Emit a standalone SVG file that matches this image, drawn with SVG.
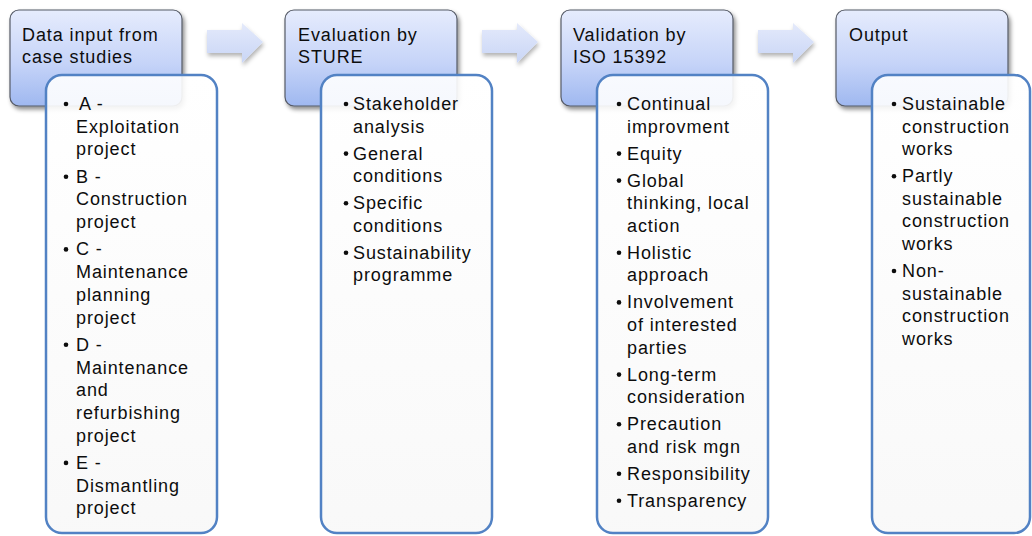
<svg xmlns="http://www.w3.org/2000/svg" width="1032" height="536" viewBox="0 0 1032 536">
<defs>
<linearGradient id="hg" x1="0" y1="0" x2="0" y2="1">
<stop offset="0" stop-color="#e6ecfd"/>
<stop offset="0.55" stop-color="#c6d4f8"/>
<stop offset="1" stop-color="#9fb8f0"/>
</linearGradient>
<linearGradient id="ag" x1="0" y1="0" x2="0" y2="1">
<stop offset="0" stop-color="#e4eafb"/>
<stop offset="1" stop-color="#c9d6f6"/>
</linearGradient>
<linearGradient id="dg" x1="0" y1="0" x2="0" y2="1">
<stop offset="0" stop-color="#ffffff"/>
<stop offset="1" stop-color="#f8f8f8"/>
</linearGradient>
<filter id="sh" x="-10%" y="-10%" width="125%" height="130%">
<feDropShadow dx="2" dy="3" stdDeviation="2" flood-color="#000" flood-opacity="0.45"/>
</filter>
<filter id="ash" x="-10%" y="-20%" width="130%" height="160%">
<feDropShadow dx="1" dy="3" stdDeviation="2" flood-color="#000" flood-opacity="0.3"/>
</filter>
<path id="arrow" d="M0,8 H35 V1 L56,20 L35,41 V31 H0 Z"/>
</defs>
<style>
.hdr{fill:url(#hg);stroke:#555a66;stroke-width:1.2;filter:url(#sh)}
.det{fill:url(#dg);fill-opacity:0.9;stroke:#5282c4;stroke-width:2.5}
.arr{fill:url(#ag);filter:url(#ash)}
text{font-family:"Liberation Sans",Arial,sans-serif;font-size:18px;letter-spacing:0.9px;fill:#0d0d0d}
.b{fill:#0d0d0d}
</style>
<rect width="1032" height="536" fill="#ffffff"/>

<g id="connectors">
<use href="#arrow" class="arr" x="207" y="22"/>
<use href="#arrow" class="arr" x="482" y="22"/>
<use href="#arrow" class="arr" x="758" y="22"/>
</g>

<g id="node-data-input">
<rect class="hdr" x="10" y="10" width="172" height="96" rx="9"/>
<text x="22" y="41">Data input from</text>
<text x="22" y="63">case studies</text>
</g>
<g id="node-case-studies">
<rect class="det" x="46" y="75" width="171" height="458" rx="16"/>
<g class="b">
<circle cx="66" cy="104" r="2.3"/>
<circle cx="66" cy="176.7" r="2.3"/>
<circle cx="66" cy="249.4" r="2.3"/>
<circle cx="66" cy="344.8" r="2.3"/>
<circle cx="66" cy="462.9" r="2.3"/>
</g>
<text x="79" y="110">A -</text>
<text x="76" y="132.7">Exploitation</text>
<text x="76" y="155.4">project</text>
<text x="76" y="182.7">B -</text>
<text x="76" y="205.4">Construction</text>
<text x="76" y="228.1">project</text>
<text x="76" y="255.4">C -</text>
<text x="76" y="278.1">Maintenance</text>
<text x="76" y="300.8">planning</text>
<text x="76" y="323.5">project</text>
<text x="76" y="350.8">D -</text>
<text x="76" y="373.5">Maintenance</text>
<text x="76" y="396.2">and</text>
<text x="76" y="418.9">refurbishing</text>
<text x="76" y="441.6">project</text>
<text x="76" y="468.9">E -</text>
<text x="76" y="491.6">Dismantling</text>
<text x="76" y="514.3">project</text>
</g>

<g id="node-evaluation">
<rect class="hdr" x="285" y="10" width="172" height="96" rx="9"/>
<text x="298" y="41">Evaluation by</text>
<text x="298" y="63">STURE</text>
</g>
<g id="node-sture-items">
<rect class="det" x="321" y="75" width="171" height="458" rx="16"/>
<g class="b">
<circle cx="346" cy="104" r="2.3"/>
<circle cx="346" cy="153.6" r="2.3"/>
<circle cx="346" cy="203.2" r="2.3"/>
<circle cx="346" cy="252.8" r="2.3"/>
</g>
<text x="353" y="110">Stakeholder</text>
<text x="353" y="132.6">analysis</text>
<text x="353" y="159.6">General</text>
<text x="353" y="182.2">conditions</text>
<text x="353" y="209.2">Specific</text>
<text x="353" y="231.8">conditions</text>
<text x="353" y="258.8">Sustainability</text>
<text x="353" y="281.4">programme</text>
</g>

<g id="node-validation">
<rect class="hdr" x="561" y="10" width="172" height="96" rx="9"/>
<text x="573" y="41">Validation by</text>
<text x="573" y="63">ISO 15392</text>
</g>
<g id="node-iso-items">
<rect class="det" x="597" y="75" width="171" height="458" rx="16"/>
<g class="b">
<circle cx="619" cy="104" r="2.3"/>
<circle cx="619" cy="153.6" r="2.3"/>
<circle cx="619" cy="180.6" r="2.3"/>
<circle cx="619" cy="252.8" r="2.3"/>
<circle cx="619" cy="302.4" r="2.3"/>
<circle cx="619" cy="374.6" r="2.3"/>
<circle cx="619" cy="424.2" r="2.3"/>
<circle cx="619" cy="473.8" r="2.3"/>
<circle cx="619" cy="500.8" r="2.3"/>
</g>
<text x="627" y="110">Continual</text>
<text x="627" y="132.6">improvment</text>
<text x="627" y="159.6">Equity</text>
<text x="627" y="186.6">Global</text>
<text x="627" y="209.2">thinking, local</text>
<text x="627" y="231.8">action</text>
<text x="627" y="258.8">Holistic</text>
<text x="627" y="281.4">approach</text>
<text x="627" y="308.4">Involvement</text>
<text x="627" y="331">of interested</text>
<text x="627" y="353.6">parties</text>
<text x="627" y="380.6">Long-term</text>
<text x="627" y="403.2">consideration</text>
<text x="627" y="430.2">Precaution</text>
<text x="627" y="452.8">and risk mgn</text>
<text x="627" y="479.8">Responsibility</text>
<text x="627" y="506.8">Transparency</text>
</g>

<g id="node-output">
<rect class="hdr" x="836" y="10" width="172" height="96" rx="9"/>
<text x="849" y="41">Output</text>
</g>
<g id="node-output-items">
<rect class="det" x="872" y="75" width="158" height="458" rx="16"/>
<g class="b">
<circle cx="894" cy="104" r="2.3"/>
<circle cx="894" cy="176.2" r="2.3"/>
<circle cx="894" cy="271" r="2.3"/>
</g>
<text x="902" y="110">Sustainable</text>
<text x="902" y="132.6">construction</text>
<text x="902" y="155.2">works</text>
<text x="902" y="182.2">Partly</text>
<text x="902" y="204.8">sustainable</text>
<text x="902" y="227.4">construction</text>
<text x="902" y="250">works</text>
<text x="902" y="277">Non-</text>
<text x="902" y="299.6">sustainable</text>
<text x="902" y="322.2">construction</text>
<text x="902" y="344.8">works</text>
</g>
</svg>
